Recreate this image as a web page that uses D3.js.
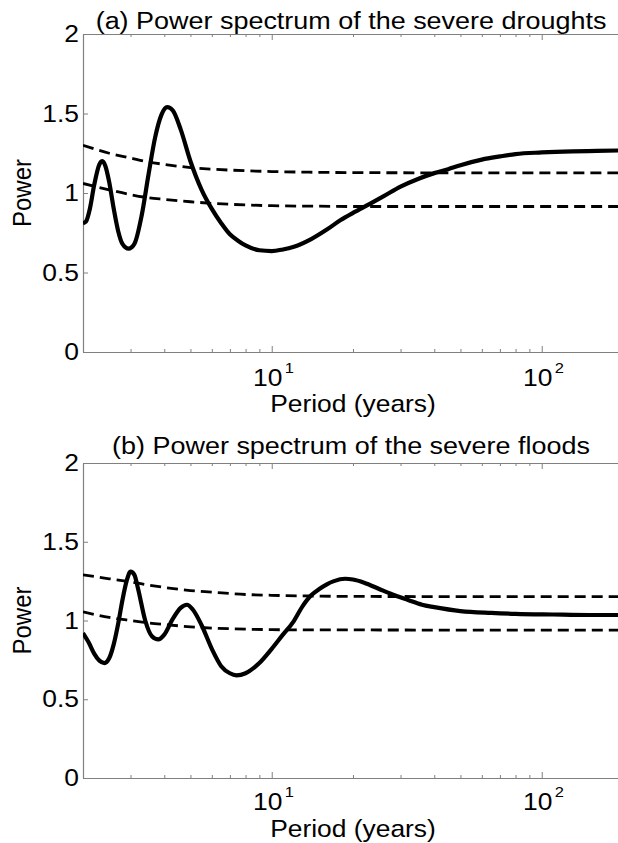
<!DOCTYPE html>
<html>
<head>
<meta charset="utf-8">
<script src="https://cdn.jsdelivr.net/npm/d3@7"></script>
<style>
body { margin: 0; background: #fff; }
text { font-family: "Liberation Sans", Arial, sans-serif; fill: #000; }
</style>
</head>
<body>
<div id="chart"></div>
<script>
// ---- data ----
const droughtPeriod = [2.0, 2.05, 2.12, 2.2, 2.3, 2.36, 2.42, 2.5, 2.6, 2.7, 2.8, 2.95, 3.1, 3.3, 3.5, 3.7, 3.9, 4.1, 4.3, 4.6, 5.0, 5.5, 6.0, 6.5, 7.0, 7.5, 8.0, 9.0, 10, 11, 12, 14, 16, 18, 20, 23, 26, 30, 35, 40, 45, 50, 60, 70, 80, 100, 130, 160, 200];
const droughtPower = [0.81, 0.82, 0.90, 1.05, 1.18, 1.20, 1.17, 1.07, 0.90, 0.76, 0.68, 0.65, 0.68, 0.86, 1.12, 1.35, 1.49, 1.54, 1.52, 1.40, 1.20, 1.02, 0.90, 0.81, 0.74, 0.70, 0.67, 0.64, 0.635, 0.645, 0.66, 0.71, 0.77, 0.83, 0.875, 0.93, 0.98, 1.04, 1.09, 1.125, 1.15, 1.175, 1.21, 1.23, 1.245, 1.255, 1.262, 1.265, 1.268];

const floodPeriod = [2.0, 2.1, 2.2, 2.3, 2.4, 2.5, 2.6, 2.7, 2.8, 2.9, 3.0, 3.1, 3.2, 3.4, 3.6, 3.8, 4.0, 4.3, 4.6, 4.85, 5.1, 5.5, 6.0, 6.5, 7.0, 7.4, 8.0, 9.0, 10, 11, 12, 13, 14, 15, 16, 17, 18.7, 20, 22, 25, 28, 32, 36, 40, 50, 65, 80, 110, 150, 200];
const floodPower = [0.92, 0.86, 0.79, 0.745, 0.73, 0.76, 0.85, 0.98, 1.13, 1.25, 1.31, 1.29, 1.20, 1.00, 0.90, 0.88, 0.91, 1.01, 1.08, 1.10, 1.07, 0.97, 0.82, 0.71, 0.665, 0.652, 0.665, 0.73, 0.82, 0.91, 0.99, 1.09, 1.16, 1.20, 1.23, 1.25, 1.265, 1.26, 1.24, 1.20, 1.165, 1.13, 1.10, 1.085, 1.06, 1.048, 1.042, 1.038, 1.035, 1.035];

// significance levels (dashed)
const levelPeriod = [2, 2.5, 3, 3.5, 4, 5, 6, 8, 10, 15, 20, 50, 200];
const droughtUpper = [1.30, 1.25, 1.22, 1.195, 1.18, 1.16, 1.15, 1.14, 1.135, 1.13, 1.128, 1.127, 1.127];
const droughtLower = [1.06, 1.02, 0.99, 0.97, 0.96, 0.945, 0.935, 0.925, 0.92, 0.917, 0.915, 0.915, 0.915];
const floodUpper = [1.29, 1.265, 1.245, 1.225, 1.21, 1.19, 1.18, 1.165, 1.16, 1.155, 1.153, 1.152, 1.152];
const floodLower = [1.055, 1.02, 1.0, 0.985, 0.975, 0.96, 0.952, 0.945, 0.942, 0.94, 0.94, 0.939, 0.939];

const yTicks = [0, 0.5, 1, 1.5, 2];
const yTickLabels = ['0', '0.5', '1', '1.5', '2'];
const xMajorTicks = [10, 100];
const xMajorExponents = ['1', '2'];
const xMinorTicks = [2, 3, 4, 5, 6, 7, 8, 9, 20, 30, 40, 50, 60, 70, 80, 90, 200];

const panels = [
	{ title: '(a) Power spectrum of the severe droughts', period: droughtPeriod, power: droughtPower,
		upper: droughtUpper, lower: droughtLower, top: 34, bottom: 352, titleY: 29, tickY: 386, labelY: 412 },
	{ title: '(b) Power spectrum of the severe floods', period: floodPeriod, power: floodPower,
		upper: floodUpper, lower: floodLower, top: 463, bottom: 778, titleY: 454, tickY: 810, labelY: 837 }
];

const W = 618, H = 843;
const left = 83, right = 623;
const stretch = 1.1;    // the figure text is a bit wide
const axisColor = '#808080';

const svg = d3.select('#chart').append('svg')
	.attr('width', W)
	.attr('height', H);

// text with slight horizontal stretch
function addText(g, x, y, str, size, anchor, rotate) {
	let tr = `translate(${x},${y})`;
	tr += rotate ? ` rotate(-90) scale(1,${stretch})` : ` scale(${stretch},1)`;
	return g.append('text')
		.attr('transform', tr)
		.attr('text-anchor', anchor)
		.attr('font-size', size)
		.text(str);
}

const x = d3.scaleLog().domain([2, 200]).range([left, right]);

panels.forEach((p, i) => {
	const g = svg.append('g');
	const y = d3.scaleLinear().domain([0, 2]).range([p.bottom, p.top]);

	// clip to the axes box
	g.append('clipPath').attr('id', 'clip' + i)
		.append('rect')
		.attr('x', left).attr('y', p.top)
		.attr('width', right - left).attr('height', p.bottom - p.top);

	// axes: box with inward ticks
	const axes = [
		g.append('g').attr('transform', `translate(0,${p.bottom})`).call(d3.axisBottom(x).tickValues(xMajorTicks).tickSize(-6).tickSizeOuter(0).tickFormat('')),
		g.append('g').attr('transform', `translate(0,${p.bottom})`).call(d3.axisBottom(x).tickValues(xMinorTicks).tickSize(-3).tickSizeOuter(0).tickFormat('')),
		g.append('g').attr('transform', `translate(0,${p.top})`).call(d3.axisTop(x).tickValues(xMajorTicks).tickSize(-6).tickSizeOuter(0).tickFormat('')),
		g.append('g').attr('transform', `translate(0,${p.top})`).call(d3.axisTop(x).tickValues(xMinorTicks).tickSize(-3).tickSizeOuter(0).tickFormat('')),
		g.append('g').attr('transform', `translate(${left},0)`).call(d3.axisLeft(y).tickValues(yTicks).tickSize(-5).tickSizeOuter(0).tickFormat('')),
		g.append('g').attr('transform', `translate(${right},0)`).call(d3.axisRight(y).tickValues(yTicks).tickSize(-5).tickSizeOuter(0).tickFormat(''))
	];
	axes.forEach(a => {
		a.select('.domain').attr('stroke', axisColor).attr('stroke-width', 1.2);
		a.selectAll('.tick line').attr('stroke', axisColor).attr('stroke-width', 1);
	});

	// y tick labels
	yTicks.forEach((v, k) => {
		addText(g, left - 4, y(v) + 8, yTickLabels[k], 24, 'end');
	});

	// x tick labels 10^n
	xMajorTicks.forEach((v, k) => {
		addText(g, x(v) - 4, p.tickY, '10', 24, 'middle');
		g.append('text')
			.attr('transform', `translate(${x(v) + 13},${p.tickY - 13}) scale(${stretch},1)`)
			.attr('font-size', 15)
			.text(xMajorExponents[k]);
	});

	// titles and axis labels
	addText(g, (left + right) / 2 - 2, p.titleY, p.title, 24.5, 'middle');
	addText(g, (left + right) / 2, p.labelY, 'Period (years)', 24, 'middle');
	addText(g, 31, (p.top + p.bottom) / 2, 'Power', 24, 'middle', true);

	const line = d3.line()
		.x(d => x(d[0]))
		.y(d => y(d[1]))
		.curve(d3.curveMonotoneX);

	const plot = g.append('g').attr('clip-path', `url(#clip${i})`);

	[p.upper, p.lower].forEach(level => {
		plot.append('path')
			.datum(levelPeriod.map((t, k) => [t, level[k]]))
			.attr('d', line)
			.attr('fill', 'none')
			.attr('stroke', '#000')
			.attr('stroke-width', 2.8)
			.attr('stroke-dasharray', '11,6');
	});

	plot.append('path')
		.datum(p.period.map((t, k) => [t, p.power[k]]))
		.attr('d', line)
		.attr('fill', 'none')
		.attr('stroke', '#000')
		.attr('stroke-width', 4.2)
		.attr('stroke-linejoin', 'round');
});
</script>
</body>
</html>
